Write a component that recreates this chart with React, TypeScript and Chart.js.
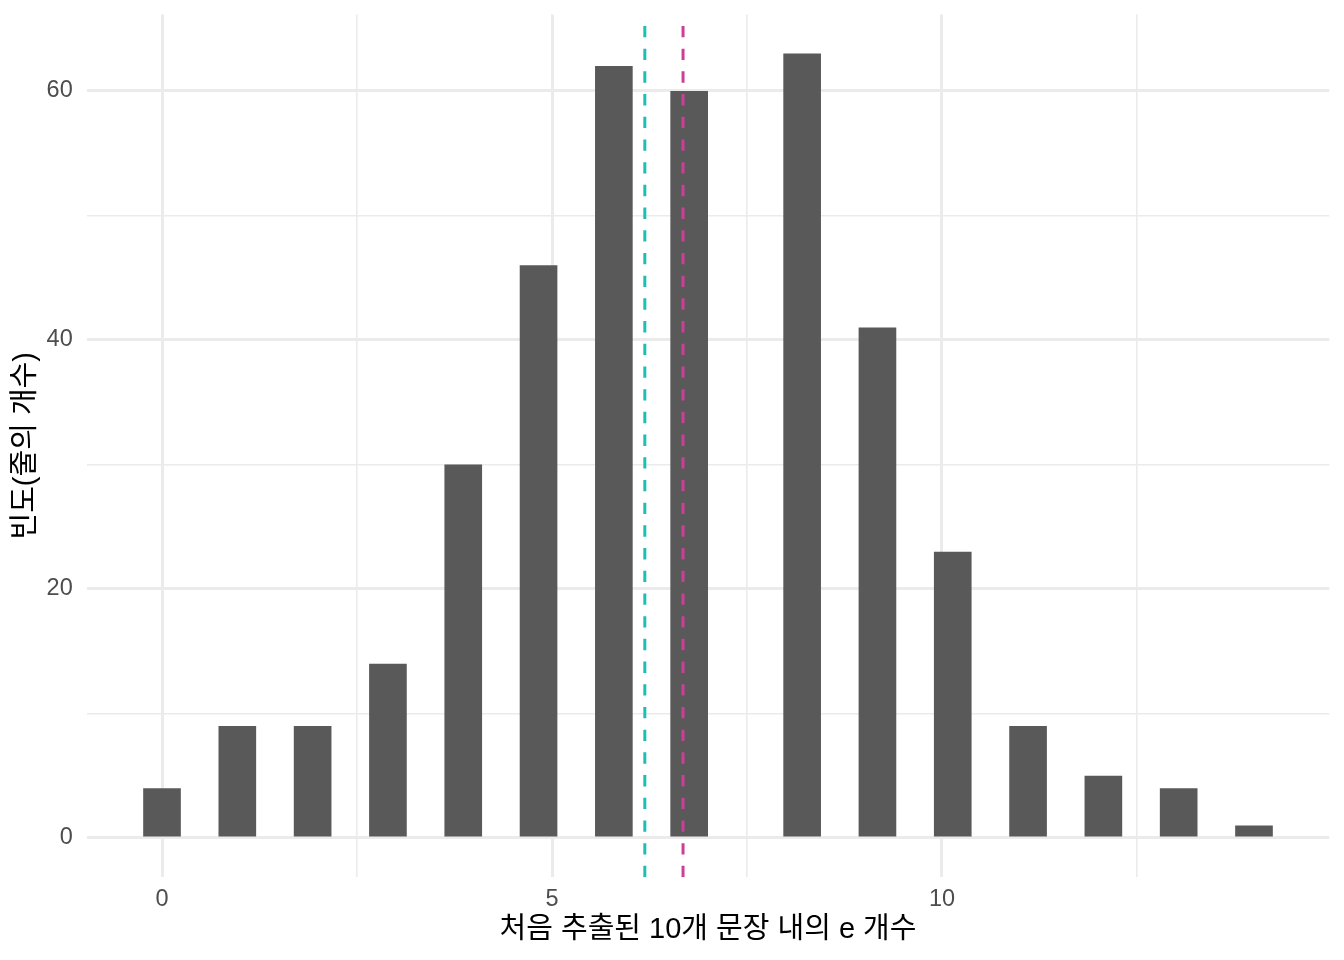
import React, { useEffect, useRef } from "react";
import { Chart, registerables } from "chart.js";

Chart.register(...registerables);

// Data: number of "e" per first-10-sentence sample and the frequency of each count
const eCounts = [0, 1, 2, 3, 4, 5, 6, 7, 8, 9, 10, 11, 12, 13, 14];
const lineFreq = [4, 9, 9, 14, 30, 46, 62, 60, 63, 41, 23, 9, 5, 4, 1];
const binCount = 30; // ggplot default bins
const dataMin = 0;
const dataMax = 14;
const binWidth = (dataMax - dataMin) / (binCount - 1);

// Reference lines
const cyanLineX = 6.19;
const magentaLineX = 6.68;

// Axis ticks
const xMajorTicks = [0, 5, 10];
const xMinorTicks = [2.5, 7.5, 12.5];
const yMajorTicks = [0, 20, 40, 60];
const yMinorTicks = [10, 30, 50];

const xTitle = "처음 추출된 10개 문장 내의 e 개수";
const yTitle = "빈도(줄의 개수)";

const FONT = '"Liberation Sans", "Noto Sans CJK KR", Arial, sans-serif';

export default function App() {
  const ref = useRef<HTMLCanvasElement | null>(null);

  useEffect(() => {
    document.body.style.margin = "0";
    const canvas = ref.current;
    if (!canvas) return;

    // histogram bin centres (right-closed bins, as in ggplot)
    const binCenters = eCounts.map(
      (v) => Math.ceil((v - dataMin) / binWidth - 0.5) * binWidth + dataMin
    );
    const xLo = dataMin - binWidth / 2;
    const xHi = dataMax + binWidth / 2;
    const xPad = (xHi - xLo) * 0.05;
    const xMin = xLo - xPad;
    const xMax = xHi + xPad;
    const yTop = Math.max(...lineFreq);
    const yPad = yTop * 0.05;
    const yMin = -yPad;
    const yMax = yTop + yPad;

    const chart = new Chart(canvas, {
      type: "bar",
      data: {
        datasets: [
          {
            type: "bar",
            data: binCenters.map((x, i) => ({ x, y: lineFreq[i] })),
            backgroundColor: "#595959",
            borderWidth: 0,
            barPercentage: 1,
            categoryPercentage: 0.5,
            order: 2,
          } as any,
          {
            type: "line",
            data: [
              { x: cyanLineX, y: yMin },
              { x: cyanLineX, y: yMax },
            ],
            borderColor: "#1DBFB5",
            borderWidth: 3,
            borderDash: [11.35, 11.35],
            borderCapStyle: "butt",
            pointRadius: 0,
            fill: false,
            order: 1,
          } as any,
          {
            type: "line",
            data: [
              { x: magentaLineX, y: yMin },
              { x: magentaLineX, y: yMax },
            ],
            borderColor: "#CC3F97",
            borderWidth: 3,
            borderDash: [11.35, 11.35],
            borderCapStyle: "butt",
            pointRadius: 0,
            fill: false,
            order: 0,
          } as any,
        ],
      },
      options: {
        responsive: false,
        animation: false,
        devicePixelRatio: 1,
        layout: { padding: { top: 14.4, right: 14.7, left: 0, bottom: 0 } },
        plugins: {
          legend: { display: false },
          tooltip: { enabled: false },
        },
        scales: {
          x: {
            type: "linear",
            offset: false,
            min: xMin,
            max: xMax,
            afterBuildTicks: (scale: any) => {
              scale.ticks = [...xMajorTicks, ...xMinorTicks]
                .sort((a, b) => a - b)
                .map((v) => ({ value: v }));
            },
            afterFit: (scale: any) => {
              scale.height = 82.8;
              scale.paddingLeft = 0;
              scale.paddingRight = 0;
              scale.paddingTop = 0;
              scale.paddingBottom = 0;
            },
            border: { display: false },
            grid: {
              offset: false,
              drawTicks: false,
              color: "#EBEBEB",
              lineWidth: (ctx: any) =>
                xMajorTicks.includes(ctx.tick?.value) ? 3 : 1.6,
            },
            ticks: {
              padding: 8,
              color: "#4D4D4D",
              font: { family: FONT, size: 23.5 },
              maxRotation: 0,
              autoSkip: false,
              callback: (v: any) =>
                xMajorTicks.includes(Number(v)) ? String(v) : "",
            },
            title: {
              display: true,
              text: xTitle,
              color: "#000000",
              font: { family: FONT, size: 29 },
              padding: { top: 0, bottom: 12.5 },
            },
          },
          y: {
            type: "linear",
            min: yMin,
            max: yMax,
            afterBuildTicks: (scale: any) => {
              scale.ticks = [...yMajorTicks, ...yMinorTicks]
                .sort((a, b) => a - b)
                .map((v) => ({ value: v }));
            },
            afterFit: (scale: any) => {
              scale.width = 86.7;
              scale.paddingTop = 0;
              scale.paddingBottom = 0;
              scale.paddingLeft = 0;
              scale.paddingRight = 0;
            },
            border: { display: false },
            grid: {
              drawTicks: false,
              color: "#EBEBEB",
              lineWidth: (ctx: any) =>
                yMajorTicks.includes(ctx.tick?.value) ? 3 : 1.6,
            },
            ticks: {
              padding: 14,
              color: "#4D4D4D",
              font: { family: FONT, size: 23.5 },
              autoSkip: false,
              callback: (v: any) =>
                yMajorTicks.includes(Number(v)) ? String(v) : "",
            },
            title: {
              display: true,
              text: yTitle,
              color: "#000000",
              font: { family: FONT, size: 29 },
              padding: { top: 8.4, bottom: 0 },
            },
          },
        },
      },
    });

    return () => chart.destroy();
  }, []);

  return (
    <div style={{ width: 1344, height: 960 }}>
      <canvas ref={ref} width={1344} height={960} style={{ display: "block" }} />
    </div>
  );
}
